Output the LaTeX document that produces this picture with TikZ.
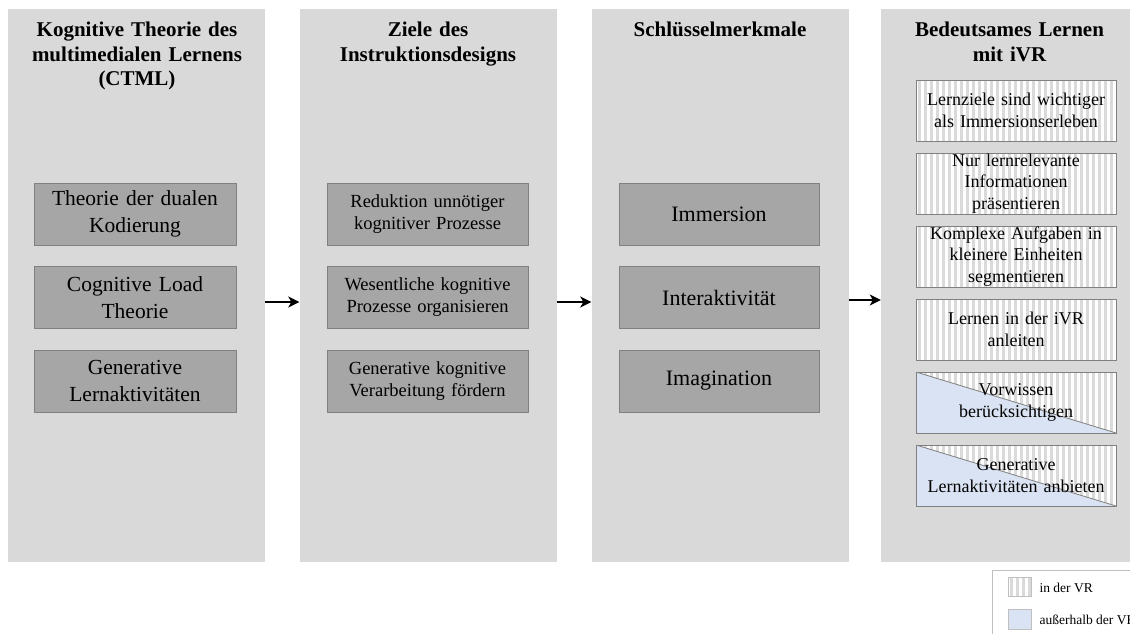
\documentclass[tikz,border=0pt]{standalone}
\usepackage{fontspec}
\setmainfont{Liberation Serif}
\usetikzlibrary{calc,arrows.meta}

\definecolor{panelgray}{HTML}{D9D9D9}
\definecolor{boxgray}{HTML}{A6A6A6}
\definecolor{edgegray}{HTML}{808080}
\definecolor{stripegray}{HTML}{DADADA}
\definecolor{vrblue}{HTML}{DAE3F3}
\definecolor{legendedge}{HTML}{BFBFBF}

% vertical stripes filling the current path picture
\newcommand\vrstripes{%
  \foreach \k in {0,...,40}{%
    \fill[stripegray] ([xshift=\k*6pt+1.5pt]path picture bounding box.north west)
      rectangle ([xshift=\k*6pt+4.5pt]path picture bounding box.south west);}}
% stripes above the diagonal, blue below it
\newcommand\vrsplit{%
  \vrstripes
  \fill[vrblue] (path picture bounding box.north west) -- (path picture bounding box.south east)
    -- (path picture bounding box.south west) -- cycle;
  \draw[edgegray, line width=0.8pt] (path picture bounding box.north west) -- (path picture bounding box.south east);}

\tikzset{
  panel/.style={fill=panelgray, draw=none, inner sep=0pt, minimum width=257pt, minimum height=553pt},
  paneltitle/.style={anchor=north, inner sep=0pt, text width=250pt, align=center,
    font=\bfseries\fontsize{21}{24.5}\selectfont},
  darkbox/.style={draw=edgegray, line width=1pt, fill=boxgray, inner sep=0pt,
    minimum height=62pt, text width=196pt, align=center},
  vrbox/.style={draw=edgegray, line width=1pt, fill=white, inner sep=0pt,
    minimum width=200pt, minimum height=61pt, text width=196pt, align=center,
    font=\fontsize{18}{21.5}\selectfont, path picture={\vrstripes}},
  outbox/.style={vrbox, path picture={\vrsplit}},
  arr/.style={line width=2pt, -{Stealth[length=11pt, width=11pt, inset=3pt]}},
  swatch/.style={draw=legendedge, line width=0.8pt, inner sep=0pt, minimum width=23pt},
  legendtext/.style={anchor=west, inner sep=0pt, font=\fontsize{13.5}{16}\selectfont},
}

\begin{document}
\begin{tikzpicture}[x=1pt, y=-1pt]
  \useasboundingbox (0,0) rectangle (1130,633);
  \clip (0,0) rectangle (1130,633);

  % columns
  \node[panel] (P1) at (136.5,285.5) {};
  \node[panel] (P2) at (428,285.5) {};
  \node[panel] (P3) at (720,285.5) {};
  \node[panel] (P4) at (1009.5,285.5) {};

  % column headings
  \node[paneltitle] (T1) at (137,22) {Kognitive Theorie des\\multimedialen Lernens\\(CTML)};
  \node[paneltitle] (T2) at (428,22) {Ziele des\\Instruktionsdesigns};
  \node[paneltitle] (T3) at (720,22) {Schlüsselmerkmale};
  \node[paneltitle] (T4) at (1009.5,22) {Bedeutsames Lernen\\mit iVR};

  % CTML
  \begin{scope}[every node/.style={darkbox, minimum width=202pt, font=\fontsize{21.5}{26.5}\selectfont}]
    \node (A1) at (135,214) {Theorie der dualen\\Kodierung};
    \node (A2) at (135,297.5) {Cognitive Load\\Theorie};
    \node (A3) at (135,381) {Generative\\Lernaktivitäten};
  \end{scope}

  % instructional design goals
  \begin{scope}[every node/.style={darkbox, minimum width=201pt, font=\fontsize{18.5}{22}\selectfont}]
    \node (B1) at (427.5,214) {Reduktion unnötiger\\kognitiver Prozesse};
    \node (B2) at (427.5,297.5) {Wesentliche kognitive\\Prozesse organisieren};
    \node (B3) at (427.5,381) {Generative kognitive\\Verarbeitung fördern};
  \end{scope}

  % key features
  \begin{scope}[every node/.style={darkbox, minimum width=200pt, font=\fontsize{22}{26}\selectfont}]
    \node (C1) at (719,214) {Immersion};
    \node (C2) at (719,297.5) {Interaktivität};
    \node (C3) at (719,381) {Imagination};
  \end{scope}

  % meaningful learning with iVR
  \node[vrbox]  (D1) at (1016,110.5) {Lernziele sind wichtiger\\als Immersionserleben};
  \node[vrbox]  (D2) at (1016,183.5) {Nur lernrelevante\\Informationen\\präsentieren};
  \node[vrbox]  (D3) at (1016,256.5) {Komplexe Aufgaben in\\kleinere Einheiten\\segmentieren};
  \node[vrbox]  (D4) at (1016,329.5) {Lernen in der iVR\\anleiten};
  \node[outbox] (D5) at (1016,402.5) {Vorwissen\\berücksichtigen};
  \node[outbox] (D6) at (1016,475.5) {Generative\\Lernaktivitäten anbieten};

  % flow between columns
  \draw[arr] ($(P1.east)+(0,16.5)$) -- ($(P2.west)+(0,16.5)$);
  \draw[arr] ($(P2.east)+(0,16.5)$) -- ($(P3.west)+(0,16.5)$);
  \draw[arr] ($(P3.east)+(0,14.5)$) -- ($(P4.west)+(0,14.5)$);

  % legend
  \draw[legendedge, line width=0.8pt] (992,570) rectangle (1150,650);
  \node[swatch, fill=white, minimum height=19pt, path picture={\vrstripes}] (L1) at (1019.5,586.5) {};
  \node[swatch, fill=vrblue, minimum height=20pt] (L2) at (1019.5,619) {};
  \node[legendtext] (LT1) at ($(L1.east)+(8,1)$) {in der VR};
  \node[legendtext] (LT2) at ($(L2.east)+(8,1)$) {außerhalb der VR};
\end{tikzpicture}
\end{document}
